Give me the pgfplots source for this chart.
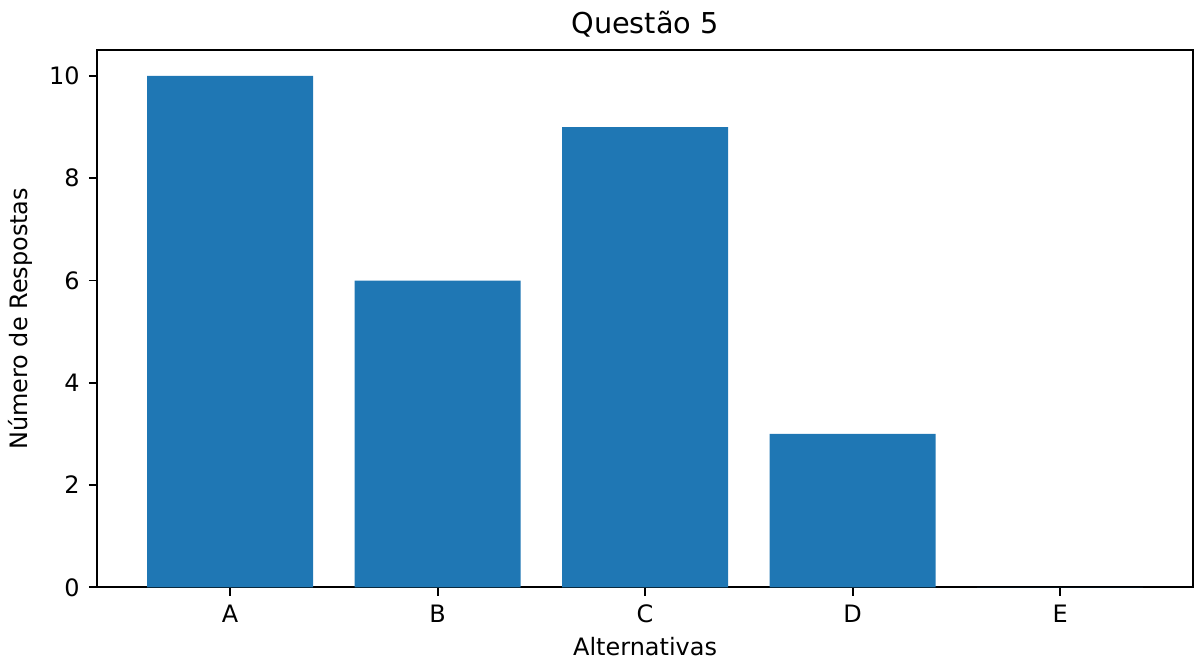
\documentclass[border=0pt]{standalone}
\usepackage{pgfplots}
\pgfplotsset{compat=1.18}
\usepackage{fontspec}
\setmainfont{DejaVu Sans}
\definecolor{mplblue}{HTML}{1F77B4}
\begin{document}
\begin{tikzpicture}
\useasboundingbox (-46.7pt,-38.65pt) rectangle (527.5pt,282pt);
\begin{axis}[
  at={(0,0)}, anchor=south west,
  scale only axis, width=526pt, height=257.8pt,
  xmin=-0.64, xmax=4.64, ymin=0, ymax=10.5,
  xtick={0,1,2,3,4}, xticklabels={A,B,C,D,E},
  ytick={0,2,4,6,8,10},
  tick align=outside, tick pos=left,
  major tick length=4pt,
  tick style={black, line width=0.9pt},
  axis line style={line width=0.9pt},
  /pgf/number format/assume math mode=true,
  ticklabel style={font=\fontsize{11.5}{13}\selectfont},
  xticklabel style={yshift=-1pt},
  yticklabel style={xshift=-1pt},
  title={Questão 5}, title style={font=\fontsize{13.8}{16}\selectfont, yshift=-3pt},
  xlabel={Alternativas}, ylabel={Número de Respostas},
  label style={font=\fontsize{11.5}{13}\selectfont},
  xlabel style={yshift=0pt},
  ylabel style={yshift=1pt},
]
\addplot[ybar, bar width=0.8, fill=mplblue, draw=none, bar shift=0pt] coordinates {(0,10) (1,6) (2,9) (3,3) (4,0)};
\end{axis}
\end{tikzpicture}
\end{document}
